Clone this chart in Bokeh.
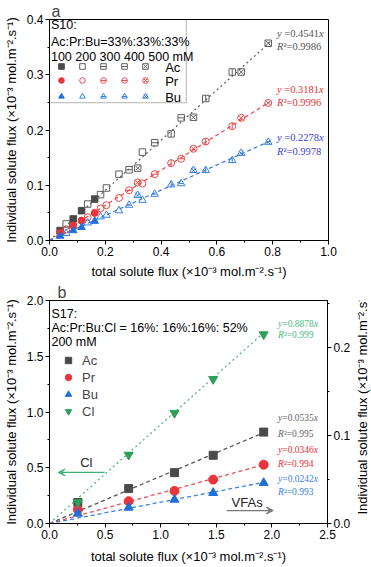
import math
from bokeh.plotting import figure
from bokeh.models import (Range1d, LinearAxis, FixedTicker, NumeralTickFormatter, Label,
                          Legend, LegendItem, BoxAnnotation, Arrow, VeeHead)
from bokeh.layouts import column, row
from bokeh.embed import file_html
from bokeh.resources import INLINE

# ---------------- panel a data (S10, Ac:Pr:Bu = 33:33:33) ----------------
conc_names = ["100", "200", "300", "400", "500"]
x_100 = [0.038, 0.085, 0.115, 0.162]
ac_100 = [0.018, 0.039, 0.054, 0.075]
pr_100 = [0.014, 0.027, 0.036, 0.050]
bu_100 = [0.008, 0.018, 0.024, 0.035]
x_200 = [0.060, 0.137, 0.183, 0.204, 0.249, 0.333]
ac_200 = [0.030, 0.066, 0.083, 0.095, 0.120, 0.160]
pr_200 = [0.020, 0.042, 0.058, 0.064, 0.077, 0.103]
bu_200 = [0.013, 0.032, 0.043, 0.046, 0.054, 0.073]
x_300 = [0.285, 0.377, 0.472]
ac_300 = [0.128, 0.177, 0.222]
pr_300 = [0.091, 0.120, 0.148]
bu_300 = [0.064, 0.084, 0.103]
x_400 = [0.436, 0.560, 0.655]
ac_400 = [0.193, 0.257, 0.305]
pr_400 = [0.140, 0.179, 0.207]
bu_400 = [0.101, 0.127, 0.145]
x_500 = [0.316, 0.516, 0.687, 0.784]
ac_500 = [0.131, 0.223, 0.305, 0.357]
pr_500 = [0.105, 0.166, 0.222, 0.249]
bu_500 = [0.082, 0.127, 0.158, 0.178]
acids_a = ["Ac", "Pr", "Bu"]
slope_a = [0.4541, 0.3181, 0.2278]
r2_a = ["0.9986", "0.9996", "0.9978"]
fit_x_a = [0.0, 0.79]

# ---------------- panel b data (S17, 200 mM) ----------------
x_b = [0.255, 0.712, 1.124, 1.472, 1.926]
ac_b = [0.0238, 0.0396, 0.0577, 0.0774, 0.1037]
pr_b = [0.0158, 0.0253, 0.0370, 0.0498, 0.0667]
bu_b = [0.0113, 0.0181, 0.0271, 0.0347, 0.0460]
cl_b = [0.190, 0.616, 0.991, 1.295, 1.696]
acids_b = ["Ac", "Pr", "Bu", "Cl"]
slope_b = [0.0535, 0.0346, 0.0242, 0.8878]
r2_b = ["0.995", "0.994", "0.993", "0.999"]
fit_x_b = [0.0, 1.95]

# ---------------- styling ----------------
SANS = "Liberation Sans"
SERIF = "Liberation Serif"
W = 371
FL, FR = 41, 43
C_AC, C_PR, C_BU, C_CL = "#4a4a4a", "#e8343a", "#1f6fd8", "#2e9e5a"
C_AC_O, C_PR_O, C_BU_O = "#606060", "#e84a4a", "#3a82dc"
TXT_A = ["#555555", "#e8303a", "#3c3cd6"]
TXT_B = ["#666666", "#e8303a", "#3a7fe0", "#4cbb7f"]
UNIT = " (\u00d710\u207b\u00b3 mol.m\u207b\u00b2.s\u207b\u00b9)"
XLAB = "total solute flux" + UNIT
YLAB = "Individual solute flux" + UNIT


def style_axis(ax, ticks, minor, label):
    ax.ticker = FixedTicker(ticks=ticks, minor_ticks=minor)
    ax.formatter = NumeralTickFormatter(format="0.0")
    ax.major_tick_in = 0
    ax.major_tick_out = 4
    ax.minor_tick_in = 0
    ax.minor_tick_out = 2
    ax.axis_line_color = "black"
    ax.major_tick_line_color = "black"
    ax.minor_tick_line_color = "black"
    ax.major_label_text_font = SANS
    ax.major_label_text_font_size = "12px"
    ax.major_label_text_color = "black"
    ax.major_label_standoff = 2
    ax.axis_label = label
    ax.axis_label_text_font = SANS
    ax.axis_label_text_font_size = "13px"
    ax.axis_label_text_font_style = "normal"
    ax.axis_label_text_color = "black"
    ax.axis_label_standoff = 5


def base_fig(w, h, top, bottom, right, xr, yr, letter):
    p = figure(width=w, height=h, x_range=Range1d(*xr), y_range=Range1d(*yr),
               output_backend="svg", toolbar_location=None,
               min_border_left=FL, min_border_right=right,
               min_border_top=top, min_border_bottom=bottom)
    p.grid.visible = False
    p.outline_line_color = "black"
    p.outline_line_alpha = 1.0
    p.outline_line_width = 1
    p.background_fill_color = "white"
    p.border_fill_color = "white"
    p.title.text = letter
    p.title.text_font = SANS
    p.title.text_font_size = "16px"
    p.title.text_font_style = "normal"
    p.title.offset = 2
    p.title.standoff = 0
    return p


def text(p, x, y, s, size, color="black", font=SANS, align="left", style="normal", angle=0,
         xoff=0):
    p.add_layout(Label(x=x, y=y, text=s, text_font=font, text_font_size=size,
                       text_color=color, text_align=align, text_baseline="middle",
                       text_font_style=style, angle=angle, x_offset=xoff))


def fit_text(p, x, y1, y2, eq_core, gap, r2, size_px, color):
    """y = ...x and R^2 = ... with italic y, x and R (Times-like metrics)."""
    sz = "%.1fpx" % size_px
    text(p, x, y1, "y", sz, color, SERIF, style="italic")
    lead = 0.444 + gap
    text(p, x, y1, eq_core, sz, color, SERIF, xoff=lead * size_px)
    core_w = 0.0
    for ch in eq_core:
        core_w += {"=": 0.564, ".": 0.25}.get(ch, 0.5)
    text(p, x, y1, "x", sz, color, SERIF, style="italic", xoff=(lead + core_w) * size_px)
    text(p, x, y2, "R", sz, color, SERIF, style="italic")
    text(p, x, y2, "\u00b2=" + r2, sz, color, SERIF, xoff=0.611 * size_px)


# ================= panel a =================
A_TOP, A_FH, A_H = 18, 223, 281
pa = base_fig(W, A_H, A_TOP, A_H - A_TOP - A_FH, FR, (0, 1.0), (0, 0.4), "a")
style_axis(pa.xaxis[0], [0, 0.2, 0.4, 0.6, 0.8, 1.0], [0.1, 0.3, 0.5, 0.7, 0.9], XLAB)
style_axis(pa.yaxis[0], [0, 0.1, 0.2, 0.3, 0.4], [0.05, 0.15, 0.25, 0.35], YLAB)


def A(px, py):  # page pixel -> panel a data
    return ((px - FL) / (W - FL - FR) * 1.0, (A_TOP + A_FH - py) / A_FH * 0.4)


fit_cols = [C_AC, C_PR, C_BU]
fit_dash = ["2 3", "4 3", "4 3"]
for i, s in enumerate(slope_a):
    pa.line(fit_x_a, [s * v for v in fit_x_a], line_color=fit_cols[i], line_dash=fit_dash[i],
            line_width=1.2, line_alpha=0.9)

xs_by_conc = [x_100, x_200, x_300, x_400, x_500]
ys_by = {"Ac": [ac_100, ac_200, ac_300, ac_400, ac_500],
         "Pr": [pr_100, pr_200, pr_300, pr_400, pr_500],
         "Bu": [bu_100, bu_200, bu_300, bu_400, bu_500]}
base_marker = {"Ac": "square", "Pr": "circle", "Bu": "triangle"}
fill_col = {"Ac": C_AC, "Pr": C_PR, "Bu": C_BU}
open_col = {"Ac": C_AC_O, "Pr": C_PR_O, "Bu": C_BU_O}
msize = {"Ac": 6.5, "Pr": 7, "Bu": 7.5}
overlay = [None, None, ("dash", 0.0), ("dash", math.pi / 2), ("x", 0.0)]
ov_factor = {"Ac": [1, 1, 1.0, 1.0, 1.0], "Pr": [1, 1, 1.0, 1.0, 0.95],
             "Bu": [1, 1, 0.55, 0.8, 1.0]}

rend = {a: [] for a in acids_a}
for a in acids_a:
    for ci in range(5):
        xs, ys = xs_by_conc[ci], ys_by[a][ci]
        if ci == 0:
            r = pa.scatter(xs, ys, marker=base_marker[a], size=msize[a],
                           fill_color=fill_col[a], line_color=fill_col[a], line_width=1)
            rs = [r]
        else:
            r = pa.scatter(xs, ys, marker=base_marker[a], size=msize[a],
                           fill_color=None, line_color=open_col[a], line_width=1)
            rs = [r]
            if overlay[ci] is not None:
                mk, ang = overlay[ci]
                r2 = pa.scatter(xs, ys, marker=mk, angle=ang, size=msize[a] * ov_factor[a][ci],
                                line_color=open_col[a], line_width=1)
                rs.append(r2)
        rend[a].append(rs)

ann_y = [(31.7, 45.0), (89.0, 101.7), (137.3, 151.0)]
for i, a in enumerate(acids_a):
    x0, y0 = A(275, ann_y[i][0])
    _, y1 = A(275, ann_y[i][1])
    fit_text(pa, x0, y0, y1, "=%.4f" % slope_a[i], 0.25, r2_a[i], 10.5, TXT_A[i])

bl, bt = A(FL, A_TOP)
br, bb = A(181.7, 102)
pa.add_layout(BoxAnnotation(left=bl, right=br, top=bt, bottom=bb, fill_alpha=0,
                            line_color="black", line_width=1))
for (px, py, s) in [(42.5, 24, "S10:"), (42.5, 40.7, "Ac:Pr:Bu=33%:33%:33%"),
                    (42.5, 55.5, " ".join(conc_names) + " mM")]:
    x, y = A(px, py)
    text(pa, x, y, s, "12.5px")
row_y = [66.7, 81.0, 96.7]
for i, a in enumerate(acids_a):
    x, y = A(160, row_y[i])
    text(pa, x, y, a, "13px")
    items = [LegendItem(label=" ", renderers=rend[a][ci]) for ci in range(5)]
    leg = Legend(items=items, orientation="horizontal",
                 location=(53.3 - 7 - FL, A_FH - (row_y[i] - A_TOP) - 7),
                 padding=0, margin=0, spacing=7, glyph_width=14, glyph_height=14,
                 label_standoff=0, label_width=0, label_height=0,
                 label_text_font_size="6px", border_line_alpha=0,
                 background_fill_alpha=0)
    pa.add_layout(leg)

# ================= panel b =================
B_TOP, B_FH, B_H = 18, 224, 286
PB0 = A_H
LABW = 18
BW = W - LABW
BR = FR - LABW
pb = base_fig(BW, B_H, B_TOP, B_H - B_TOP - B_FH, BR, (0, 2.5), (0, 2.0), "b")
pb.title.offset = 8
style_axis(pb.xaxis[0], [0, 0.5, 1.0, 1.5, 2.0, 2.5], [0.25, 0.75, 1.25, 1.75, 2.25], XLAB)
style_axis(pb.yaxis[0], [0, 0.5, 1.0, 1.5, 2.0], [0.25, 0.75, 1.25, 1.75], YLAB)
pb.xaxis[0].axis_label_standoff = 7
pb.extra_y_ranges = {"vfa": Range1d(0, 0.253)}
rax = LinearAxis(y_range_name="vfa")
style_axis(rax, [0, 0.1, 0.2], [0.05, 0.15, 0.25], None)
pb.add_layout(rax, "right")


def B(px, py):
    return ((px - FL) / (BW - FL - BR) * 2.5, (PB0 + B_TOP + B_FH - py) / B_FH * 2.0)


b_cols = [C_AC, C_PR, C_BU, C_CL]
b_line_cols = ["#555555", "#e8505a", "#3a82dc", "#4cbb7f"]
b_dash = ["4 3", "4 3", "4 3", "2 3"]
b_vals = [ac_b, pr_b, bu_b, cl_b]
b_mark = ["square", "circle", "triangle", "inverted_triangle"]
b_size = [8, 9, 9, 9]
b_rend = []
for i, a in enumerate(acids_b):
    kw = {} if a == "Cl" else {"y_range_name": "vfa"}
    pb.line(fit_x_b, [slope_b[i] * v for v in fit_x_b], line_color=b_line_cols[i],
            line_dash=b_dash[i], line_width=1.3, **kw)
for i, a in enumerate(acids_b):
    kw = {} if a == "Cl" else {"y_range_name": "vfa"}
    r = pb.scatter(x_b, b_vals[i], marker=b_mark[i], size=b_size[i], fill_color=b_cols[i],
                   line_color=b_cols[i], **kw)
    b_rend.append(r)

ann_b = [(417.0, 432.7), (449.3, 463.3), (478.3, 491.7), (322.7, 334.0)]
for i, a in enumerate(acids_b):
    x0, y0 = B(277, ann_b[i][0])
    _, y1 = B(277, ann_b[i][1])
    fit_text(pb, x0, y0, y1, "=%.4f" % slope_b[i], 0.0, r2_b[i], 9.5, TXT_B[i])

for (px, py, s) in [(43, 313, "S17:"), (43, 326.5, "Ac:Pr:Bu:Cl = 16%: 16%:16%: 52%"),
                    (43, 341, "200 mM")]:
    x, y = B(px, py)
    text(pb, x, y, s, "12.5px")

leg_b = Legend(items=[LegendItem(label=a, renderers=[b_rend[i]]) for i, a in enumerate(acids_b)],
               orientation="vertical",
               location=(60 - 8 - FL, B_FH - (352 - PB0 - B_TOP) - (4 * 16 + 3 * 1)),
               padding=0, margin=0, spacing=1, glyph_width=16, glyph_height=16,
               label_standoff=6, label_width=0, label_height=14,
               label_text_font=SANS, label_text_font_size="13px",
               border_line_alpha=0, background_fill_alpha=0)
pb.add_layout(leg_b)

x1, y1 = B(98, 471.7)
x2, y2 = B(50, 471.7)
pb.add_layout(Arrow(x_start=x1, y_start=y1, x_end=x2, y_end=y2, line_color="#3cb371",
                    line_width=1.2, end=VeeHead(size=7, fill_color="#3cb371",
                                                line_color="#3cb371")))
xc, yc = B(79, 462)
text(pb, xc, yc, "Cl", "13px", "#222222", align="center")
x1, y1 = B(224, 510)
x2, y2 = B(272, 510)
pb.add_layout(Arrow(x_start=x1, y_start=y1, x_end=x2, y_end=y2, line_color="#777777",
                    line_width=1.2, end=VeeHead(size=7, fill_color="#777777",
                                                line_color="#777777")))
xc, yc = B(245, 501.5)
text(pb, xc, yc, "VFAs", "13px", "#222222", align="center")

# right-hand axis title strip
pl = figure(width=LABW, height=B_H, x_range=Range1d(0, 1), y_range=Range1d(0, B_H),
            output_backend="svg", toolbar_location=None, min_border=0,
            min_border_left=0, min_border_right=0, min_border_top=0, min_border_bottom=0)
pl.axis.visible = False
pl.grid.visible = False
pl.outline_line_color = None
pl.background_fill_color = "white"
pl.border_fill_color = "white"
text(pl, 0.5, B_H - B_TOP - B_FH / 2, YLAB, "13px", "black", align="center", angle=math.pi / 2)

layout = column(pa, row(pb, pl, spacing=0), spacing=0)
open("out.html", "w").write(file_html(layout, INLINE))
